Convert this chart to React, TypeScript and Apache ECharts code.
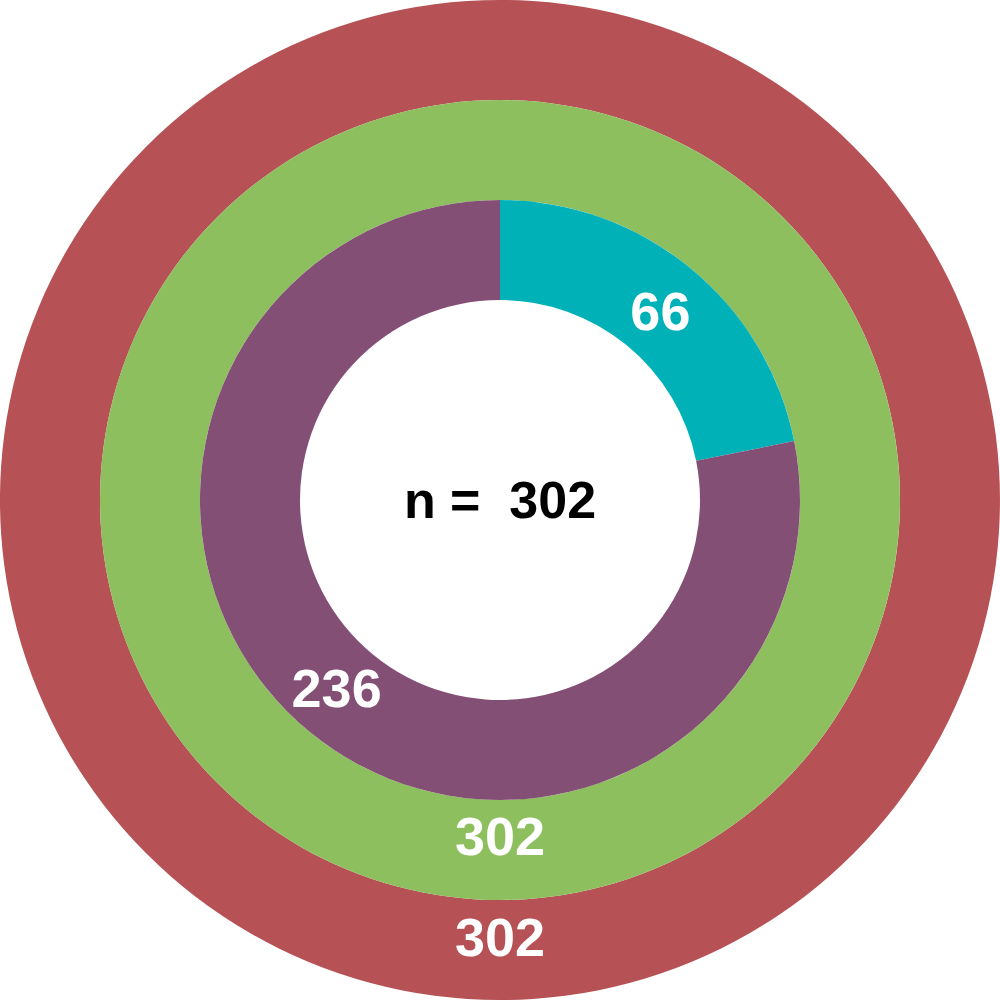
import React, { useEffect, useRef } from "react";
import * as echarts from "echarts";

const outerValues = [302];
const middleValues = [302];
const innerCategories = ["A", "B"];
const innerValues = [66, 236];
const totalLabel = "n =  302";

const outerColor = "#B65255";
const middleColor = "#8DBF5F";
const innerColors = ["#00B1B8", "#844F74"];

const labelFont = "'Liberation Sans', Arial, Helvetica, sans-serif";

export default function App() {
  const ref = useRef<HTMLDivElement>(null);
  useEffect(() => {
    if (!ref.current) return;
    const chart = echarts.init(ref.current, undefined, { renderer: "svg" });
    const baseLabel = {
      show: true,
      position: "inside",
      formatter: "{c}",
      color: "#ffffff",
      fontSize: 54,
      fontWeight: "bold",
      fontFamily: labelFont,
    };
    chart.setOption({
      animation: false,
      backgroundColor: "#ffffff",
      graphic: [
        {
          type: "text",
          left: "center",
          top: "middle",
          style: {
            text: totalLabel,
            fill: "#000000",
            fontSize: 52,
            fontWeight: "bold",
            fontFamily: labelFont,
          },
        },
      ],
      series: [
        {
          type: "pie",
          radius: [400, 500],
          center: ["50%", "50%"],
          startAngle: 90,
          silent: true,
          label: { ...baseLabel, offset: [0, -16] },
          labelLine: { show: false },
          itemStyle: { color: outerColor },
          data: outerValues.map((v) => ({ value: v, name: "outer" })),
        },
        {
          type: "pie",
          radius: [300, 400],
          center: ["50%", "50%"],
          startAngle: 90,
          silent: true,
          label: { ...baseLabel, offset: [0, -17] },
          labelLine: { show: false },
          itemStyle: { color: middleColor },
          data: middleValues.map((v) => ({ value: v, name: "middle" })),
        },
        {
          type: "pie",
          radius: [200, 300],
          center: ["50%", "50%"],
          startAngle: 90,
          silent: true,
          label: { ...baseLabel },
          labelLine: { show: false },
          data: innerValues.map((v, i) => ({
            value: v,
            name: innerCategories[i],
            itemStyle: { color: innerColors[i] },
            label: { offset: i === 0 ? [0, 7] : [-3, -8] },
          })),
        },
      ],
    });
    return () => chart.dispose();
  }, []);
  return (
    <div
      ref={ref}
      style={{ position: "fixed", left: 0, top: 0, width: 1000, height: 1000 }}
    />
  );
}
